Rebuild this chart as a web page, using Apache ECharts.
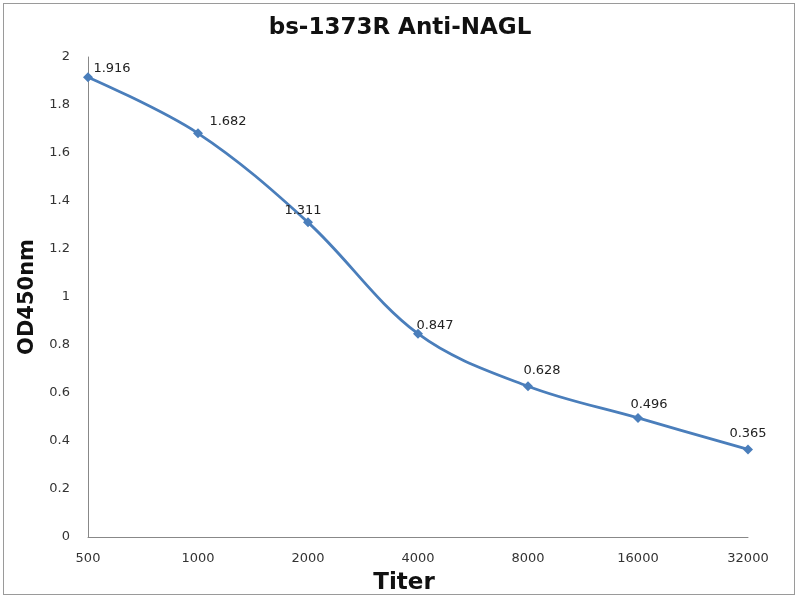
<!DOCTYPE html>
<html>
<head>
<meta charset="utf-8">
<script src="https://cdn.jsdelivr.net/npm/echarts@6/dist/echarts.min.js"></script>
<style>
html,body{margin:0;padding:0;background:#fff;overflow:hidden;}
#frame{position:absolute;left:3px;top:3px;width:792px;height:592px;border:1px solid #9a9a9a;box-sizing:border-box;}
#chart{position:absolute;left:0;top:0;width:800px;height:600px;}
</style>
</head>
<body>
<div id="frame"></div>
<div id="chart"></div>
<script>
const titers = ['500', '1000', '2000', '4000', '8000', '16000', '32000'];
const od450 = [1.916, 1.682, 1.311, 0.847, 0.628, 0.496, 0.365];
const labelOffsets = [[24, 8], [30, 5], [-5, 5], [17, 8], [14, 1], [11, 3], [0, 1]];

const chart = echarts.init(document.getElementById('chart'));
const font = 'DejaVu Sans, Verdana, sans-serif';
chart.setOption({
  animation: false,
  backgroundColor: 'transparent',
  title: {
    text: 'bs-1373R Anti-NAGL',
    left: 'center',
    top: 12,
    textStyle: {fontFamily: font, fontSize: 23, fontWeight: 'bold', color: '#111'}
  },
  grid: {left: 88, right: 52, top: 57, bottom: 57, containLabel: false},
  xAxis: {
    type: 'category',
    data: titers,
    boundaryGap: false,
    name: 'Titer',
    nameLocation: 'middle',
    nameGap: 35,
    nameTextStyle: {fontFamily: font, fontSize: 23, fontWeight: 'bold', color: '#111', padding: [0, 28, 0, 0]},
    axisLine: {lineStyle: {color: '#888', width: 1}},
    axisTick: {show: false},
    axisLabel: {fontFamily: font, fontSize: 13, color: '#333', margin: 15}
  },
  yAxis: {
    type: 'value',
    min: 0,
    max: 2,
    interval: 0.2,
    name: 'OD450nm',
    nameLocation: 'middle',
    nameGap: 50,
    nameTextStyle: {fontFamily: font, fontSize: 21, fontWeight: 'bold', color: '#111'},
    axisLine: {show: true, lineStyle: {color: '#888', width: 1}},
    axisTick: {show: false},
    splitLine: {show: false},
    axisLabel: {fontFamily: font, fontSize: 13, color: '#333', margin: 18,
      formatter: v => String(Math.round(v * 10) / 10)}
  },
  series: [{
    type: 'line',
    data: od450.map((v, i) => ({
      value: v,
      label: {offset: labelOffsets[i]}
    })),
    smooth: 0.35,
    symbol: 'diamond',
    symbolSize: 10,
    lineStyle: {color: '#4a7ebb', width: 2.8},
    itemStyle: {color: '#4a7ebb'},
    label: {
      show: true,
      position: 'top',
      fontFamily: font,
      fontSize: 13,
      color: '#222'
    }
  }]
});
</script>
</body>
</html>
